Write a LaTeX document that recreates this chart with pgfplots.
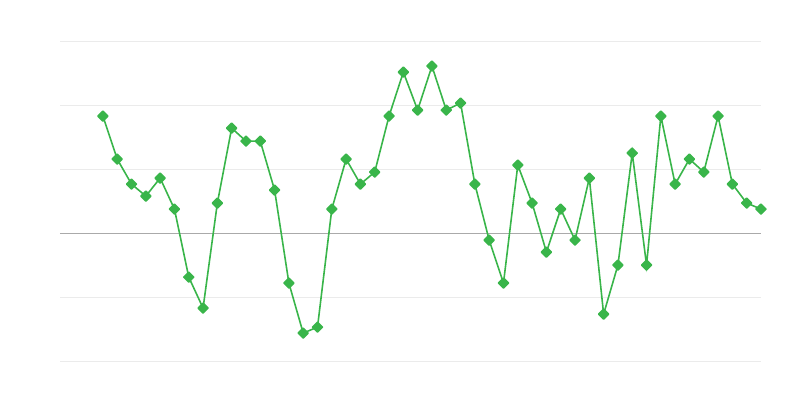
\documentclass[border=0pt]{standalone}
\usepackage{pgfplots}
\pgfplotsset{compat=1.18}
\definecolor{lg}{HTML}{39B54A}
\definecolor{gridc}{HTML}{EBEBEB}
\definecolor{zeroc}{HTML}{AAAAAA}
\begin{document}
\begin{tikzpicture}[x=1pt,y=1pt]
\path[use as bounding box] (0,0) rectangle (400,200);
\begin{axis}[
  at={(30pt,19.2pt)}, anchor=south west,
  scale only axis, width=350.5pt, height=160pt,
  xmin=-3, xmax=46, ymin=-2, ymax=3,
  axis line style={draw=none},
  ytick={-2,-1,1,2,3}, xtick=\empty,
  yticklabels={}, major tick length=0pt,
  ymajorgrids, grid style={color=gridc, line width=0.5pt},
  extra y ticks={0}, extra y tick labels={},
  extra y tick style={grid style={color=zeroc, line width=0.55pt}},
  clip=false,
]
\addplot[color=lg, line width=0.8pt, mark=square*, mark size=1.75pt,
  mark options={rotate=45, solid, fill=lg, line join=round}] coordinates {
(0,1.836) (1,1.164) (2,0.773) (3,0.586) (4,0.867) (5,0.383) (6,-0.680) (7,-1.164)
(8,0.477) (9,1.648) (10,1.445) (11,1.445) (12,0.680) (13,-0.773) (14,-1.555) (15,-1.461)
(16,0.383) (17,1.164) (18,0.773) (19,0.961) (20,1.836) (21,2.523) (22,1.930) (23,2.617)
(24,1.930) (25,2.039) (26,0.773) (27,-0.102) (28,-0.773) (29,1.070) (30,0.477) (31,-0.289)
(32,0.383) (33,-0.102) (34,0.867) (35,-1.258) (36,-0.492) (37,1.258) (38,-0.492) (39,1.836)
(40,0.773) (41,1.164) (42,0.961) (43,1.836) (44,0.773) (45,0.477) (46,0.383)
};
\end{axis}
\end{tikzpicture}
\end{document}
